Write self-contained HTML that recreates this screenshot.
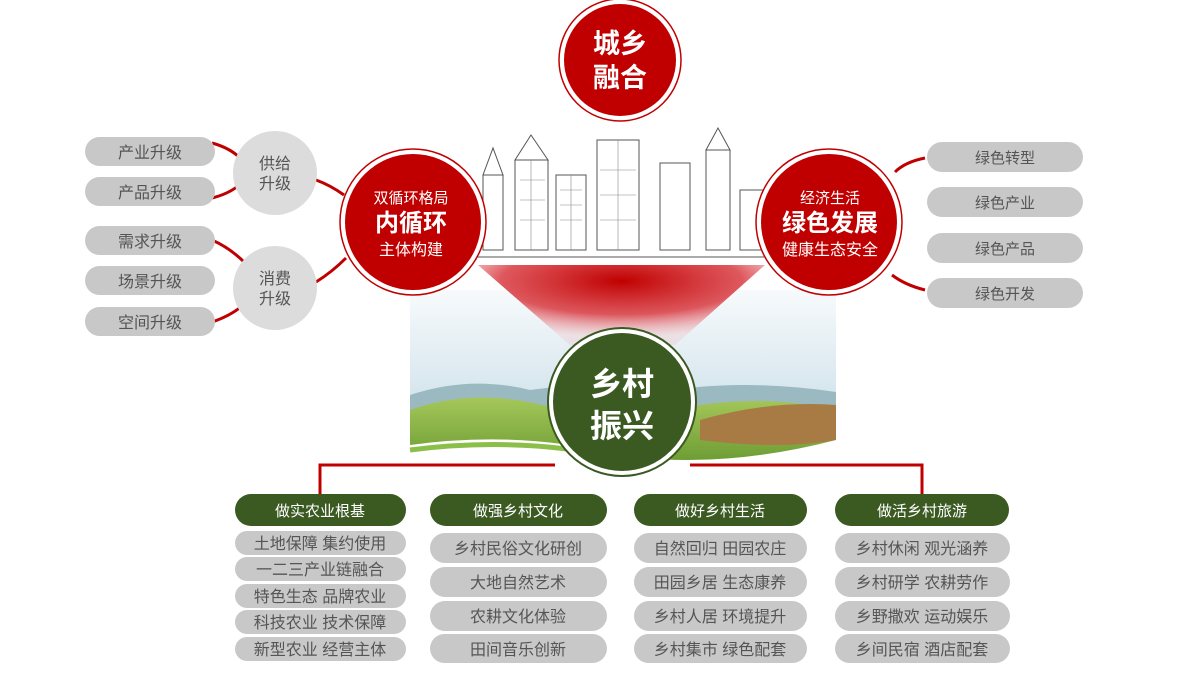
<!DOCTYPE html>
<html><head><meta charset="utf-8"><style>
body{margin:0;background:#fff;width:1200px;height:685px;overflow:hidden;font-family:"Liberation Sans","Noto Sans CJK SC",sans-serif}
svg text{font-family:"Liberation Sans","Noto Sans CJK SC",sans-serif}
</style></head><body>
<svg width="1200" height="685" viewBox="0 0 1200 685" xmlns="http://www.w3.org/2000/svg">
<defs>
<linearGradient id="sky" x1="0" y1="0" x2="0" y2="1"><stop offset="0" stop-color="#f7fafc"/><stop offset="0.6" stop-color="#d6e6ee"/><stop offset="1" stop-color="#b5d0dc"/></linearGradient>
<radialGradient id="fun" cx="0.5" cy="0.2" r="0.7"><stop offset="0" stop-color="#c00000"/><stop offset="0.6" stop-color="#d83a40" stop-opacity="0.85"/><stop offset="1" stop-color="#f2b8bb" stop-opacity="0.3"/></radialGradient>
<linearGradient id="hill" x1="0" y1="0" x2="0" y2="1"><stop offset="0" stop-color="#a5c75a"/><stop offset="1" stop-color="#6a9a32"/></linearGradient>
</defs>
<rect x="410" y="290" width="426" height="175" fill="url(#sky)"/>
<path d="M410 395 Q470 375 530 390 Q600 380 660 392 Q740 378 836 392 L836 465 L410 465Z" fill="#9bb9c0"/>
<path d="M410 410 Q480 385 560 410 Q620 420 700 405 Q770 395 836 410 L836 465 L410 465Z" fill="url(#hill)"/>
<path d="M700 420 Q770 400 836 405 L836 440 Q780 450 700 440Z" fill="#a87a44"/>
<path d="M410 445 Q520 430 620 455 Q720 470 836 440 L836 465 L410 465Z" fill="#fff"/>
<path d="M410 450 Q520 436 620 458" stroke="#8cbf4a" stroke-width="5" fill="none"/>
<polygon points="478,265 765,265 675,345 570,345" fill="url(#fun)"/>
<g stroke="#555" stroke-width="1" fill="#fff">
<rect x="483" y="175" width="20" height="75"/><polygon points="483,175 493,148 503,175"/>
<rect x="515" y="160" width="33" height="90"/><polygon points="515,160 531,135 548,160"/>
<rect x="556" y="175" width="30" height="75"/>
<rect x="597" y="140" width="42" height="110"/>
<rect x="660" y="163" width="30" height="87"/>
<rect x="706" y="150" width="24" height="100"/><polygon points="706,150 718,128 730,150"/>
<rect x="740" y="190" width="40" height="60"/>
<line x1="470" y1="257" x2="780" y2="257"/>
</g>
<g stroke="#888" stroke-width="0.6">
<line x1="520" y1="180" x2="545" y2="180"/><line x1="520" y1="200" x2="545" y2="200"/><line x1="520" y1="220" x2="545" y2="220"/>
<line x1="531" y1="160" x2="531" y2="250"/><line x1="571" y1="175" x2="571" y2="250"/><line x1="618" y1="140" x2="618" y2="250"/>
<line x1="560" y1="190" x2="582" y2="190"/><line x1="560" y1="205" x2="582" y2="205"/><line x1="560" y1="220" x2="582" y2="220"/>
<line x1="600" y1="170" x2="636" y2="170"/><line x1="600" y1="195" x2="636" y2="195"/><line x1="600" y1="220" x2="636" y2="220"/>
</g>
<g stroke="#c00000" stroke-width="3" fill="none">
<path d="M212 143 Q230 148 240 158"/><path d="M212 198 Q228 194 238 186"/>
<path d="M212 240 Q230 248 244 262"/><path d="M212 322 Q230 316 242 306"/>
<path d="M316 180 Q330 185 344 195"/><path d="M316 282 Q332 272 346 258"/>
<path d="M925 158 Q905 162 895 172"/><path d="M925 290 Q905 285 892 275"/>
<path d="M320 495 V465 H555"/><path d="M690 465 H922 V495"/>
</g>
<g fill="#c8c8c8"><rect x="85" y="137" width="130" height="29" rx="14.5"/><rect x="85" y="177" width="130" height="29" rx="14.5"/><rect x="85" y="226" width="130" height="29" rx="14.5"/><rect x="85" y="266" width="130" height="29" rx="14.5"/><rect x="85" y="307" width="130" height="29" rx="14.5"/></g>
<g fill="#555" font-size="16" text-anchor="middle"><text x="150" y="158">产业升级</text><text x="150" y="198">产品升级</text><text x="150" y="247">需求升级</text><text x="150" y="287">场景升级</text><text x="150" y="328">空间升级</text></g>
<circle cx="275" cy="173" r="42" fill="#dcdcdc"/><circle cx="275" cy="288" r="42" fill="#dcdcdc"/>
<g fill="#555" font-size="16" text-anchor="middle"><text x="275" y="169">供给</text><text x="275" y="189">升级</text><text x="275" y="284">消费</text><text x="275" y="304">升级</text></g>
<g fill="#c8c8c8"><rect x="927" y="142" width="156" height="30" rx="15"/><rect x="927" y="187" width="156" height="30" rx="15"/><rect x="927" y="233" width="156" height="30" rx="15"/><rect x="927" y="278" width="156" height="30" rx="15"/></g>
<g fill="#555" font-size="15" text-anchor="middle"><text x="1005" y="163">绿色转型</text><text x="1005" y="208">绿色产业</text><text x="1005" y="254">绿色产品</text><text x="1005" y="299">绿色开发</text></g>
<g>
<circle cx="620" cy="60" r="61" fill="#fff" stroke="#c00000" stroke-width="1.5"/><circle cx="620" cy="60" r="56" fill="#c00000"/>
<circle cx="413" cy="222" r="73" fill="#fff" stroke="#c00000" stroke-width="1.5"/><circle cx="413" cy="222" r="68" fill="#c00000"/>
<circle cx="829" cy="222" r="73" fill="#fff" stroke="#c00000" stroke-width="1.5"/><circle cx="829" cy="222" r="68" fill="#c00000"/>
<circle cx="622" cy="402" r="74" fill="#fff" stroke="#3a5a22" stroke-width="2"/><circle cx="622" cy="402" r="69" fill="#3b5a22"/>
</g>
<g fill="#fff" text-anchor="middle">
<text x="620" y="53" font-size="27" font-weight="bold">城乡</text><text x="620" y="87" font-size="27" font-weight="bold">融合</text>
<text x="411" y="203" font-size="15">双循环格局</text><text x="411" y="231" font-size="24" font-weight="bold">内循环</text><text x="411" y="255" font-size="16">主体构建</text>
<text x="830" y="203" font-size="15">经济生活</text><text x="830" y="231" font-size="24" font-weight="bold">绿色发展</text><text x="830" y="255" font-size="16">健康生态安全</text>
<text x="622" y="395" font-size="32" font-weight="bold">乡村</text><text x="622" y="437" font-size="32" font-weight="bold">振兴</text>
</g>
<g fill="#3b5a22"><rect x="235" y="494" width="171" height="32" rx="16"/><rect x="430" y="494" width="177" height="32" rx="16"/><rect x="634" y="494" width="173" height="32" rx="16"/><rect x="835" y="494" width="174" height="32" rx="16"/></g>
<g fill="#fff" font-size="15" text-anchor="middle"><text x="320" y="516">做实农业根基</text><text x="518" y="516">做强乡村文化</text><text x="720" y="516">做好乡村生活</text><text x="922" y="516">做活乡村旅游</text></g>
<g fill="#c8c8c8">
<rect x="235" y="531" width="171" height="24" rx="12"/><rect x="235" y="557" width="171" height="24" rx="12"/><rect x="235" y="584" width="171" height="24" rx="12"/><rect x="235" y="610" width="171" height="24" rx="12"/><rect x="235" y="637" width="171" height="24" rx="12"/>
<rect x="430" y="533" width="177" height="30" rx="15"/><rect x="430" y="567" width="177" height="30" rx="15"/><rect x="430" y="601" width="177" height="30" rx="15"/><rect x="430" y="634" width="177" height="29" rx="14.5"/>
<rect x="634" y="533" width="173" height="30" rx="15"/><rect x="634" y="567" width="173" height="30" rx="15"/><rect x="634" y="601" width="173" height="30" rx="15"/><rect x="634" y="634" width="173" height="29" rx="14.5"/>
<rect x="835" y="533" width="175" height="30" rx="15"/><rect x="835" y="567" width="175" height="30" rx="15"/><rect x="835" y="601" width="175" height="30" rx="15"/><rect x="835" y="634" width="175" height="29" rx="14.5"/>
</g>
<g fill="#555" font-size="16" text-anchor="middle">
<text x="320" y="549">土地保障 集约使用</text><text x="320" y="575">一二三产业链融合</text><text x="320" y="602">特色生态 品牌农业</text><text x="320" y="628">科技农业 技术保障</text><text x="320" y="655">新型农业 经营主体</text>
<text x="518" y="554">乡村民俗文化研创</text><text x="518" y="588">大地自然艺术</text><text x="518" y="622">农耕文化体验</text><text x="518" y="655">田间音乐创新</text>
<text x="720" y="554">自然回归 田园农庄</text><text x="720" y="588">田园乡居 生态康养</text><text x="720" y="622">乡村人居 环境提升</text><text x="720" y="655">乡村集市 绿色配套</text>
<text x="922" y="554">乡村休闲 观光涵养</text><text x="922" y="588">乡村研学 农耕劳作</text><text x="922" y="622">乡野撒欢 运动娱乐</text><text x="922" y="655">乡间民宿 酒店配套</text>
</g>
</svg>
</body></html>
